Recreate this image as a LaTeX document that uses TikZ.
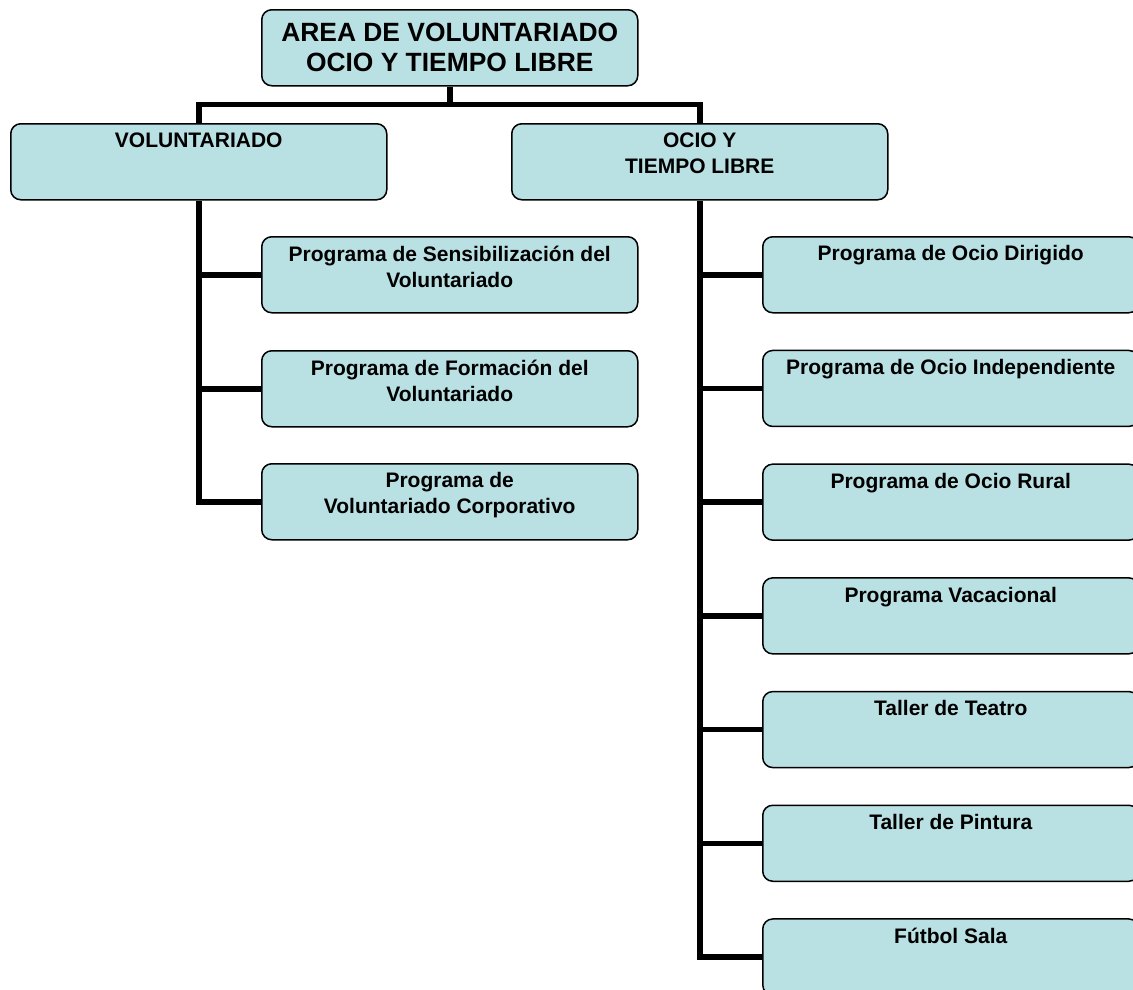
\documentclass[tikz,border=0pt]{standalone}
\usepackage{fontspec}
\setmainfont{Liberation Sans}
\usetikzlibrary{backgrounds}
\definecolor{boxfill}{RGB}{185,224,227}
\begin{document}
\begin{tikzpicture}[x=1pt,y=-1pt,
  box/.style={draw=black, line width=1.5pt, fill=boxfill, rounded corners=10pt,
              minimum width=376pt, minimum height=76pt, inner sep=0pt, anchor=north west},
  lbl/.style={font=\bfseries\fontsize{21}{26}\selectfont, align=center, inner sep=0pt, anchor=north},
  ttl/.style={font=\bfseries\fontsize{26.4}{30}\selectfont, align=center, inner sep=0pt},
  conn/.style={line width=5.5pt, line join=miter}]
\useasboundingbox (0,0) rectangle (1133,989);
\clip (0,0) rectangle (1133,989);
% boxes
\path (261,9) node[box] (top) {}
      (10,123) node[box] (vol) {}
      (511,123) node[box] (ocio) {}
      (261,236) node[box] (l1) {}
      (261,350) node[box] (l2) {}
      (261,463) node[box] (l3) {};
\foreach \i/\y in {1/236,2/349.7,3/463.4,4/577.1,5/690.8,6/804.5,7/918.2}
  \path (762,\y) node[box] (r\i) {};
% connectors
\begin{scope}[on background layer]
\draw[conn] (top.south) -- ++(0,18) -| (vol.north);
\draw[conn] (top.south) -- ++(0,18) -| (ocio.north);
\draw[conn] (vol.south) |- (l3.west);
\draw[conn] (vol.south |- l1.west) -- (l1.west);
\draw[conn] (vol.south |- l2.west) -- (l2.west);
\draw[conn] (ocio.south) |- (r7.west);
\foreach \i in {1,...,6}
  \draw[conn] (ocio.south |- r\i.west) -- (r\i.west);
\end{scope}
% texts
\node[ttl] (ttop) at (top.center) {AREA DE VOLUNTARIADO\\OCIO Y TIEMPO LIBRE};
\node[lbl] (tvol) at ([yshift=-9.5pt]vol.north) {VOLUNTARIADO};
\node[lbl] (tocio) at ([yshift=-9.5pt]ocio.north) {OCIO Y\\TIEMPO LIBRE};
\node[lbl] (tl1) at ([yshift=-9.5pt]l1.north) {Programa de Sensibilización del\\Voluntariado};
\node[lbl] (tl2) at ([yshift=-9.5pt]l2.north) {Programa de Formación del\\Voluntariado};
\node[lbl] (tl3) at ([yshift=-9.5pt]l3.north) {Programa de\\Voluntariado Corporativo};
\node[lbl] (tr1) at ([yshift=-9.5pt]r1.north) {Programa de Ocio Dirigido};
\node[lbl] (tr2) at ([yshift=-9.5pt]r2.north) {Programa de Ocio Independiente};
\node[lbl] (tr3) at ([yshift=-9.5pt]r3.north) {Programa de Ocio Rural};
\node[lbl] (tr4) at ([yshift=-9.5pt]r4.north) {Programa Vacacional};
\node[lbl] (tr5) at ([yshift=-9.5pt]r5.north) {Taller de Teatro};
\node[lbl] (tr6) at ([yshift=-9.5pt]r6.north) {Taller de Pintura};
\node[lbl] (tr7) at ([yshift=-9.5pt]r7.north) {Fútbol Sala};
\end{tikzpicture}
\end{document}
